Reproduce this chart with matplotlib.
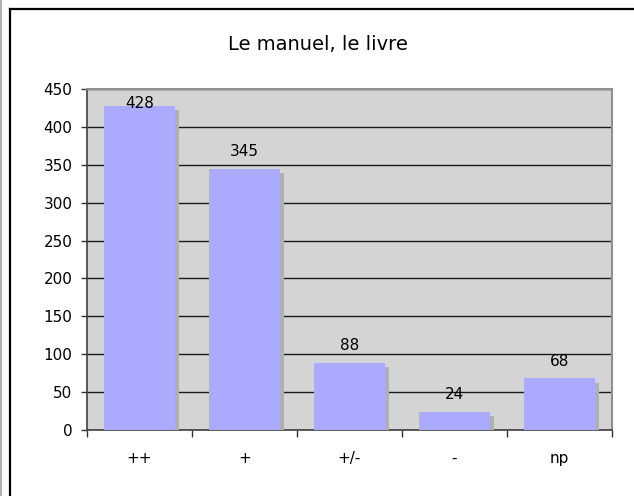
import matplotlib
matplotlib.use("Agg")
import matplotlib.pyplot as plt
import matplotlib.patheffects as pe
from matplotlib.lines import Line2D

categories = ["++", "+", "+/-", "-", "np"]
values = [428, 345, 88, 24, 68]
yticks = [0, 50, 100, 150, 200, 250, 300, 350, 400, 450]
title = "Le manuel, le livre"

plt.rcParams['font.family'] = ['DejaVu Sans']

W, H = 634, 496
fig = plt.figure(figsize=(W / 100, H / 100), dpi=100)
fig.patch.set_facecolor('white')

# outer chart border (extends past right/bottom of image)
fig.add_artist(Line2D([10 / W, 10 / W], [0, 1 - 8.5 / H], color='black', lw=1.6, transform=fig.transFigure))
fig.add_artist(Line2D([10 / W, 1], [1 - 9 / H, 1 - 9 / H], color='black', lw=1.6, transform=fig.transFigure))
fig.add_artist(Line2D([0.5 / W, 0.5 / W], [0, 1], color='#A0A0A0', lw=1.2, transform=fig.transFigure))

left, right, top, bottom = 87, 612, 89, 430
ax = fig.add_axes([left / W, 1 - bottom / H, (right - left) / W, (bottom - top) / H])
ax.set_facecolor('#D4D4D4')

x = list(range(len(categories)))
bars = ax.bar(x, values, width=0.675, color='#AAAAFF', zorder=3)
for b in bars:
    b.set_path_effects([pe.SimplePatchShadow(offset=(3, -3), shadow_rgbFace='#B0B0B0', alpha=1.0), pe.Normal()])

ax.set_xlim(-0.5, len(categories) - 0.5)
ax.set_ylim(0, 450)
ax.set_yticks(yticks)
ax.set_yticklabels([str(t) for t in yticks])
ax.yaxis.grid(True, color='#1a1a1a', lw=1.0, zorder=1)
ax.set_axisbelow(True)

ax.set_xticks([i + 0.5 for i in range(-1, len(categories))], minor=False)
ax.set_xticklabels([''] * (len(categories) + 1))
ax.set_xticks(x, minor=True)
ax.set_xticklabels(categories, minor=True)
ax.tick_params(axis='x', which='major', direction='out', length=5, width=1, color='#333333')
ax.tick_params(axis='x', which='minor', length=0, pad=15, labelsize=11)
ax.tick_params(axis='y', direction='out', length=4, width=1, color='#333333', pad=6.5, labelsize=11)

for s in ['left', 'bottom']:
    ax.spines[s].set_color('#404040')
    ax.spines[s].set_linewidth(1.2)
for s in ['top', 'right']:
    ax.spines[s].set_color('#909090')
    ax.spines[s].set_linewidth(1.5)

for xi, v in zip(x, values):
    ax.text(xi, min(v + 17, 425), str(v), ha='center', va='baseline', fontsize=11, zorder=5)

fig.text(318 / W, 1 - 45 / H, title, ha='center', va='center', fontsize=14)

fig.savefig('out.png', dpi=100)
